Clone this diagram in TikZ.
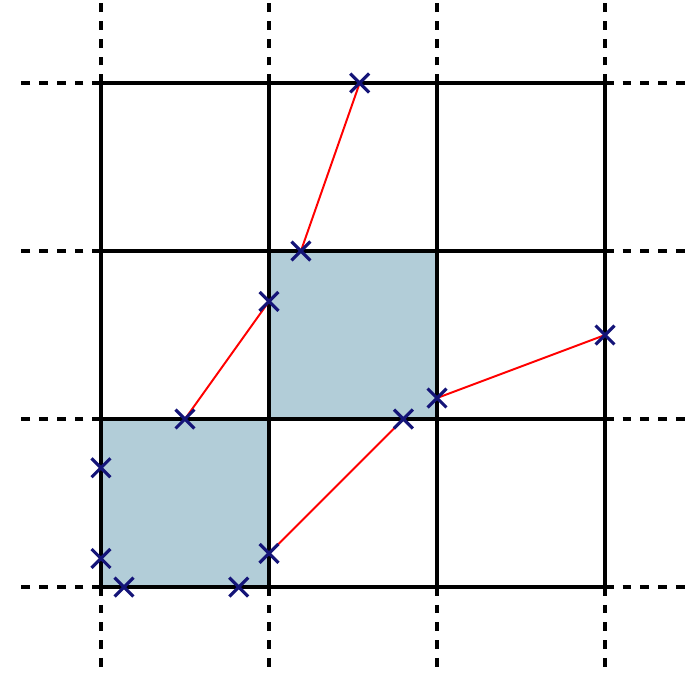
\documentclass[tikz,border=0pt]{standalone}
\usepackage{tikz}
\usetikzlibrary{shapes.misc}
\definecolor{cellfill}{RGB}{178,205,216}
\definecolor{markblue}{RGB}{20,20,120}
\tikzset{
	gridline/.style={line width=2pt},
	extline/.style={line width=1.6pt, dash pattern=on 4.4pt off 4.6pt},
	ray/.style={red, line width=1pt},
	crossmark/.style={cross out, draw=markblue, line width=1.6pt, minimum size=8pt, inner sep=0pt}
}
\begin{document}
\begin{tikzpicture}[x=3cm, y=3cm]
		\useasboundingbox (-0.601,-0.506) rectangle (3.476,3.494);
		% shaded cells
		\fill[cellfill] (0,0) rectangle (1,1);
		\fill[cellfill] (1,1) rectangle (2,2);
		% dashed extensions
		\foreach \k in {0,1,2,3} {
			\draw[extline] (\k,3) -- (\k,3.494);
			\draw[extline] (\k,0) -- (\k,-0.506);
			\draw[extline] (0,\k) -- (-0.51,\k);
			\draw[extline] (3,\k) -- (3.476,\k);
		}
		\draw[gridline, step=3cm] (0,0) grid (3,3);
		% points
		\coordinate (p1) at (1.54,3);
		\coordinate (p2) at (1.19,2);
		\coordinate (p3) at (1,1.70);
		\coordinate (p4) at (0.5,1);
		\coordinate (p5) at (0,0.71);
		\coordinate (p6) at (0,0.17);
		\coordinate (p7) at (0.137,0);
		\coordinate (p8) at (0.82,0);
		\coordinate (p9) at (1,0.20);
		\coordinate (p10) at (1.80,1);
		\coordinate (p11) at (2,1.125);
		\coordinate (p12) at (3,1.50);
		\draw[ray] (p1) -- (p2);
		\draw[ray] (p3) -- (p4);
		\draw[ray] (p9) -- (p10);
		\draw[ray] (p11) -- (p12);
		\foreach \p in {p1,p2,p3,p4,p5,p6,p7,p8,p9,p10,p11,p12}
			\node[crossmark] (m-\p) at (\p) {};
	\end{tikzpicture}
\end{document}
